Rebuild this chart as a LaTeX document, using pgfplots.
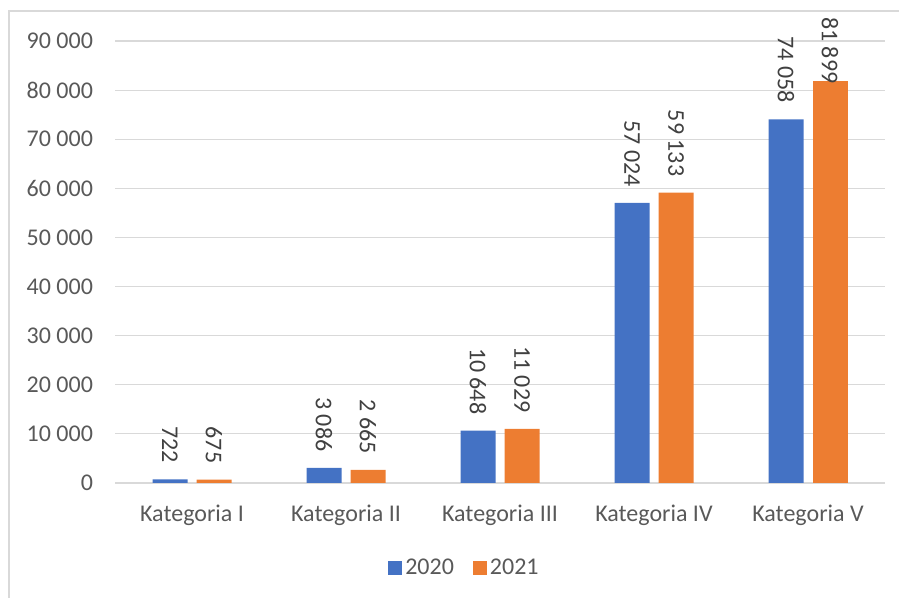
\documentclass[border=0pt]{standalone}
\usepackage{fontspec}
\setmainfont{Carlito}
\usepackage{pgfplots}
\pgfplotsset{compat=1.18}
\definecolor{s2020}{HTML}{4472C4}
\definecolor{s2021}{HTML}{ED7D31}
\definecolor{txt}{HTML}{595959}
\definecolor{lbl}{HTML}{404040}
\definecolor{gridc}{HTML}{D9D9D9}

\begin{document}
\begin{tikzpicture}
\useasboundingbox (0,0) rectangle (449.5pt,299pt);
% chart area frame (left and top edges only visible)
\draw[gridc, line width=0.8pt] (4.5pt,0) -- (4.5pt,293.5pt) -- (449.5pt,293.5pt);
\begin{axis}[
    at={(57.5pt,57.5pt)}, anchor=south west,
    scale only axis, width=385pt, height=221pt,
    ybar, bar width=17.5pt,
    xmin=-0.5, xmax=4.5, ymin=0, ymax=90000,
    xtick=data,
    xticklabels={Kategoria I, Kategoria II, Kategoria III, Kategoria IV, Kategoria V},
    ytick={0,10000,...,90000},
    scaled y ticks=false,
    /pgf/number format/1000 sep={\ },
    /pgf/number format/assume math mode=true,
    axis line style={draw=none},
    major tick length=0pt,
    ymajorgrids, grid style={gridc, line width=0.6pt},
    tick label style={font=\fontsize{12}{14}\selectfont, text=txt},
    xticklabel style={yshift=-7.5pt},
    yticklabel style={xshift=-7.5pt},
    legend style={at={(0.4545,-0.1923)}, anchor=center, draw=none,
        legend columns=2, font=\fontsize{12}{14}\selectfont, text=txt,
        nodes={inner sep=1.5pt},
        /tikz/every even column/.append style={column sep=8pt}},
    legend image code/.code={\fill[#1] (0pt,-3.5pt) rectangle (7pt,3.5pt);},
    nodes near coords, point meta=explicit symbolic,
    every node near coord/.append style={rotate=-90, anchor=east, inner xsep=8pt,
        font=\fontsize{12}{14}\selectfont, text=lbl},
]
\addplot[fill=s2020, draw=none, bar shift=-11pt] coordinates {
    (0,722) [722]
    (1,3086) [3 086]
    (2,10648) [10 648]
    (3,57024) [57 024]
    (4,74058) [74 058]
};
\addplot[fill=s2021, draw=none, bar shift=11pt] coordinates {
    (0,675) [675]
    (1,2665) [2 665]
    (2,11029) [11 029]
    (3,59133) [59 133]
};
% last bar: label pushed down to stay inside the chart
\addplot[fill=s2021, draw=none, bar shift=11pt, forget plot,
    every node near coord/.append style={xshift=9.5pt}] coordinates {
    (4,81899) [81 899]
};
\legend{2020, 2021}
\end{axis}
\end{tikzpicture}
\end{document}
